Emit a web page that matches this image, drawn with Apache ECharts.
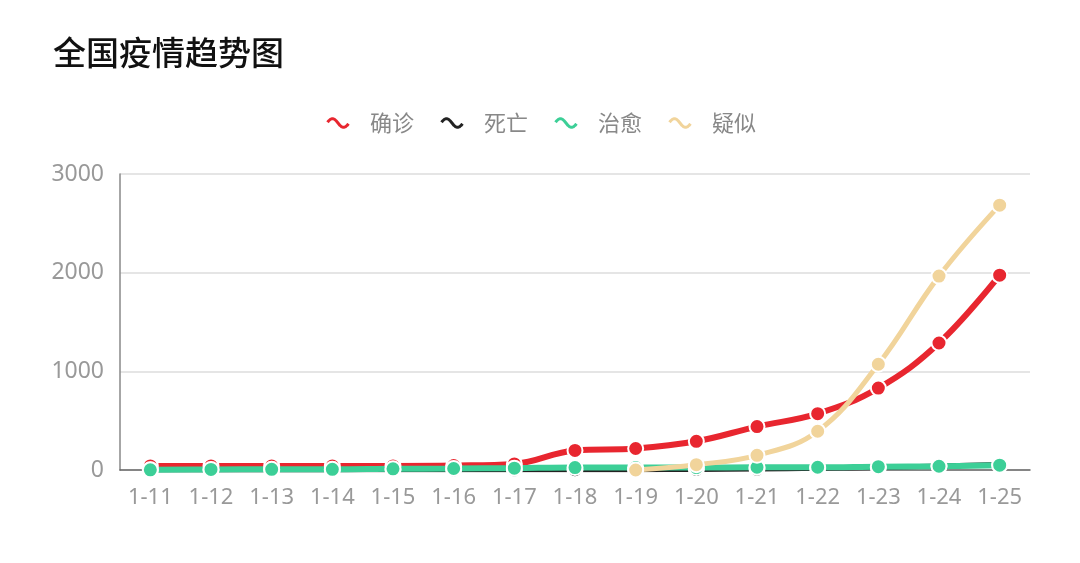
<!DOCTYPE html>
<html>
<head>
<meta charset="utf-8">
<script src="https://cdn.jsdelivr.net/npm/echarts@6/dist/echarts.min.js"></script>
<style>
  html, body { margin: 0; padding: 0; background: #fff; }
  #main { width: 1080px; height: 563px; }
</style>
</head>
<body>
<div id="main"></div>
<script>
(function() {
  var myChart = echarts.init(document.getElementById('main'));

  // 日期
  var dates = ['1-11', '1-12', '1-13', '1-14', '1-15', '1-16', '1-17', '1-18',
               '1-19', '1-20', '1-21', '1-22', '1-23', '1-24', '1-25'];
  // 确诊
  var confirmed = [41, 41, 41, 41, 41, 45, 62, 198, 218, 291, 440, 571, 830, 1287, 1975];
  // 死亡
  var dead = [1, 1, 1, 1, 2, 2, 2, 3, 3, 6, 9, 17, 25, 41, 56];
  // 治愈
  var cured = [2, 6, 7, 7, 12, 15, 19, 25, 25, 25, 28, 28, 34, 38, 49];
  // 疑似
  var suspect = ['-', '-', '-', '-', '-', '-', '-', '-', 0, 54, 149, 393, 1072, 1965, 2684];

  var yTicks = [0, 1000, 2000, 3000];

  // 波浪图例图标（粗的 ∿）
  function wavePath() {
    var n = 36, h = 2, amp = 3.5, w = 18, up = [], low = [];
    var k = 2 * Math.PI / w;
    for (var i = 0; i <= n; i++) {
      var x = i * w / n;
      var y = 7 - amp * Math.sin(k * x);
      var dy = -amp * k * Math.cos(k * x);
      var len = Math.sqrt(1 + dy * dy);
      var nx = dy / len, ny = -1 / len;
      up.push((x + nx * h).toFixed(2) + ',' + (y + ny * h).toFixed(2));
      low.push((x - nx * h).toFixed(2) + ',' + (y - ny * h).toFixed(2));
    }
    return 'path://M' + up.join(' L') + ' L' + low.reverse().join(' L') + ' Z';
  }

  function line(name, data, color, width) {
    return {
      name: name,
      type: 'line',
      data: data,
      smooth: 0.4,
      symbol: 'circle',
      symbolSize: 15,
      lineStyle: { color: color, width: width },
      itemStyle: { color: color, borderColor: '#fff', borderWidth: 2 }
    };
  }

  var option = {
    backgroundColor: '#fff',
    title: {
      text: '全国疫情趋势图',
      left: 48,
      top: 31,
      textStyle: {
        fontSize: 33,
        fontWeight: 500,
        color: '#111',
        fontFamily: 'Noto Sans CJK SC'
      }
    },
    legend: {
      top: 107,
      left: 'center',
      itemWidth: 26,
      itemHeight: 17,
      itemGap: 24,
      icon: wavePath(),
      textStyle: {
        fontSize: 22,
        color: '#888',
        padding: [0, 0, 0, 14],
        fontFamily: 'Noto Sans CJK SC'
      },
      data: ['确诊', '死亡', '治愈', '疑似']
    },
    grid: { left: 120, right: 50, top: 174, bottom: 93 },
    xAxis: {
      type: 'category',
      data: dates,
      axisLine: { lineStyle: { color: '#666', width: 1.5 } },
      axisTick: { alignWithLabel: true, length: 3, lineStyle: { color: '#bbb' } },
      axisLabel: { interval: 0, fontSize: 22, color: '#999', margin: 17, fontFamily: 'Noto Sans' }
    },
    yAxis: {
      type: 'value',
      min: yTicks[0],
      max: yTicks[yTicks.length - 1],
      interval: 1000,
      axisLine: { show: true, lineStyle: { color: '#888', width: 1.5 } },
      axisTick: { show: false },
      axisLabel: {
        fontSize: 23,
        color: '#999',
        margin: 16,
        fontFamily: 'Noto Sans',
        formatter: function(v) { return String(v); }
      },
      splitLine: { lineStyle: { color: '#ddd', width: 1.5 } }
    },
    series: [
      line('确诊', confirmed, '#e8262f', 6),
      line('死亡', dead, '#222222', 5),
      line('治愈', cured, '#3ccf97', 6),
      line('疑似', suspect, '#f1d49b', 5)
    ]
  };

  myChart.setOption(option);
  window.addEventListener('resize', function() {
    myChart.resize();
  });
})();
</script>
</body>
</html>
